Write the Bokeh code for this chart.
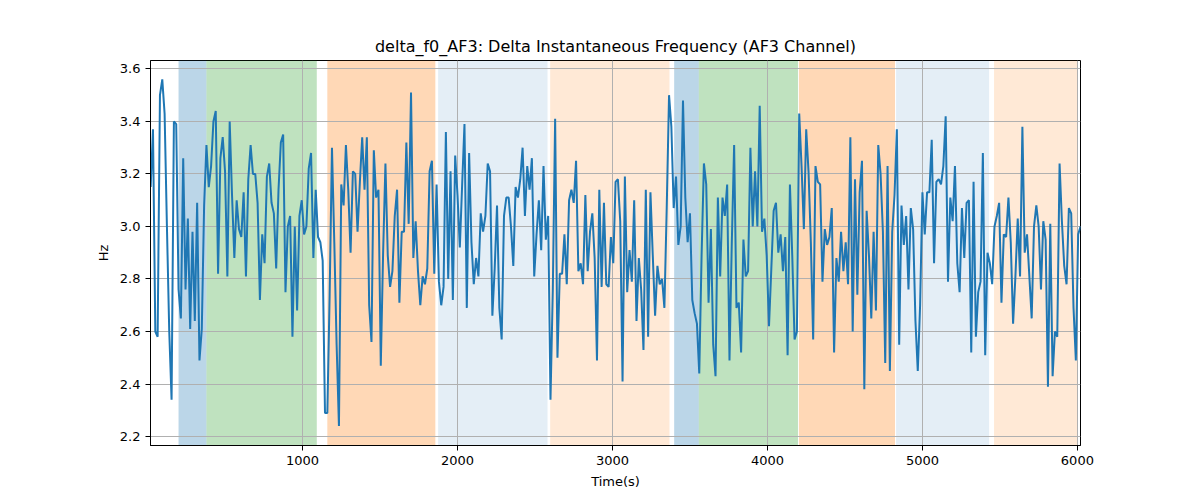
from bokeh.plotting import figure
from bokeh.models import FixedTicker, Range1d, ColumnDataSource, PrintfTickFormatter
from bokeh.embed import file_html
from bokeh.resources import INLINE

# time axis: first sample and sample spacing (seconds)
t_start = 20
t_step = 15

# delta f0 values, left to right
vals_a = [3.15, 3.37, 2.60, 2.58, 3.50, 3.56, 3.43, 3.00, 2.60, 2.34,
          3.40, 3.39, 2.76, 2.65, 3.26, 2.76, 3.03, 2.61, 2.98, 2.64,
          3.09, 2.49, 2.61, 3.08, 3.31, 3.15, 3.23, 3.40, 3.44, 2.82,
          3.26, 3.34, 3.21, 2.81, 3.40, 3.12, 2.88, 3.10, 2.99, 2.96,
          3.13, 2.81, 3.18, 3.31, 3.20, 3.20, 3.09, 2.72, 2.97, 2.86,
          3.19, 3.24, 3.09, 3.05, 2.84, 3.14, 3.32, 3.35, 2.75, 3.00,
          3.04, 2.58, 3.00, 2.68, 3.04, 3.10, 2.97]
vals_b = [3.00, 3.22, 3.28, 2.88, 3.14, 2.96, 2.94, 2.87, 2.29, 2.29,
          2.74, 3.30, 2.94, 2.55, 2.24, 3.16, 3.08, 3.31, 3.14, 2.90,
          3.21, 3.20, 2.98, 3.17, 3.34, 3.14, 3.34, 2.70, 2.56, 3.29,
          3.11, 3.14, 2.47, 2.90, 3.24, 2.89, 2.77, 2.83, 3.04, 3.14,
          2.71, 2.98, 2.98, 3.32, 3.01, 3.51, 2.88, 3.02, 2.83, 2.70,
          2.81, 2.78, 2.84, 3.21, 3.25, 2.82, 3.16, 2.79, 2.70, 2.77,
          3.36, 2.80, 3.21, 2.72, 3.27, 3.12]
vals_c = [2.92, 3.16, 3.39, 2.69, 3.28, 2.94, 2.78, 2.88, 2.81, 3.05,
          2.98, 3.04, 3.24, 3.21, 2.66, 2.84, 3.08, 2.69, 2.57, 3.04,
          3.11, 3.11, 3.00, 2.85, 3.15, 3.11, 3.18, 3.30, 3.04, 3.23,
          3.14, 3.26, 2.81, 2.97, 3.10, 2.91, 3.23, 2.95, 3.04, 2.34,
          2.76, 3.41, 2.50, 2.82, 2.82, 2.97, 2.78, 3.10, 3.14, 3.09,
          3.25, 2.83, 2.86, 2.78, 3.12, 2.83, 2.98, 3.05, 2.88, 2.49,
          3.14, 2.77, 3.09, 2.78, 2.77, 2.96, 2.86]
vals_d = [3.17, 3.18, 3.02, 2.41, 3.19, 2.75, 2.91, 2.79, 3.10, 2.64,
          2.88, 2.76, 2.53, 3.14, 2.58, 3.13, 2.89, 2.66, 2.85, 2.78,
          2.80, 2.69, 3.07, 3.50, 3.38, 3.07, 3.19, 2.93, 3.00, 3.48,
          3.11, 2.94, 3.05, 2.72, 2.67, 2.63, 2.44, 2.89, 3.24, 3.16,
          2.71, 2.99, 2.55, 2.43, 3.11, 2.81, 3.11, 3.04, 3.16, 2.49,
          2.94, 3.31, 2.69, 2.71, 2.52, 2.95, 2.81, 2.83, 3.30, 3.00,
          3.21, 3.00, 3.46, 2.98, 3.03, 2.89, 2.62]
vals_e = [2.84, 3.06, 3.09, 2.90, 2.97, 2.83, 2.96, 2.51, 3.16, 2.89,
          2.57, 2.60, 3.43, 3.23, 2.99, 3.37, 3.21, 2.94, 2.57, 3.23,
          3.17, 3.16, 2.79, 2.99, 2.93, 2.96, 3.07, 2.52, 2.88, 2.79,
          2.98, 2.83, 2.94, 2.78, 3.34, 2.60, 3.18, 2.74, 3.13, 3.25,
          2.38, 3.06, 2.89, 2.65, 2.98, 2.68, 3.31, 3.20, 2.98, 2.48,
          3.23, 2.45, 2.98, 3.12, 3.37, 2.55, 3.08, 2.93, 3.04, 2.76,
          3.07, 2.99, 2.64, 2.45, 2.70, 3.13, 2.97]
vals_f = [3.13, 3.13, 3.33, 2.86, 3.17, 3.18, 3.16, 3.23, 3.42, 2.79,
          3.11, 3.02, 3.23, 2.86, 2.75, 3.07, 2.88, 3.09, 3.10, 2.52,
          3.17, 2.58, 2.75, 2.79, 3.28, 2.51, 2.90, 2.86, 2.78, 3.00,
          3.04, 3.09, 2.71, 2.97, 2.96, 3.11, 2.94, 2.63, 2.81, 3.03,
          2.81, 3.38, 2.90, 2.97, 2.81, 2.65, 3.00, 3.08, 3.00, 2.76,
          3.02, 2.95, 2.39, 3.01, 2.43, 2.60, 2.58, 3.24, 3.02, 2.85,
          2.78, 3.07, 3.05, 2.69, 2.49, 2.97, 3.00]

delta_f0 = vals_a + vals_b + vals_c + vals_d + vals_e + vals_f
times = [t_start + i * t_step for i in range(len(delta_f0))]

# shaded phases: start, end, colour, alpha
span_start = [200, 380, 1160, 1875, 2598, 3398, 3557, 4203, 4830, 5462]
span_end = [380, 1092, 1857, 2581, 3368, 3557, 4197, 4823, 5430, 5998]
span_color = ["#1f77b4", "#2ca02c", "#ff7f0e", "#1f77b4", "#ff7f0e",
              "#1f77b4", "#2ca02c", "#ff7f0e", "#1f77b4", "#ff7f0e"]
span_alpha = [0.3, 0.3, 0.3, 0.12, 0.17, 0.3, 0.3, 0.3, 0.12, 0.17]

FONT = "DejaVu Sans"

p = figure(width=1192, height=492, output_backend="svg", toolbar_location=None,
           title="delta_f0_AF3: Delta Instantaneous Frequency (AF3 Channel)",
           x_range=Range1d(19, 6020), y_range=Range1d(2.166, 3.632),
           x_axis_label="Time(s)", y_axis_label="Hz",
           min_border_left=150, min_border_right=112,
           min_border_top=60, min_border_bottom=47)

p.title.align = "center"
p.title.text_font = FONT
p.title.text_font_size = "16px"
p.title.text_font_style = "normal"
p.title.text_color = "black"

spans = ColumnDataSource(dict(left=span_start, right=span_end, color=span_color, alpha=span_alpha))
p.quad(left="left", right="right", bottom=2.166, top=3.632, fill_color="color",
       fill_alpha="alpha", line_color=None, source=spans, level="image")

p.line(times, delta_f0, line_color="#1f77b4", line_width=2)

p.xaxis.ticker = FixedTicker(ticks=[1000, 2000, 3000, 4000, 5000, 6000])
p.yaxis.ticker = FixedTicker(ticks=[2.2, 2.4, 2.6, 2.8, 3.0, 3.2, 3.4, 3.6])
p.yaxis.formatter = PrintfTickFormatter(format="%.1f")

for ax in [p.xaxis[0], p.yaxis[0]]:
    ax.major_label_text_font = FONT
    ax.major_label_text_font_size = "13px"
    ax.major_label_text_color = "black"
    ax.axis_label_text_font = FONT
    ax.axis_label_text_font_size = "13px"
    ax.axis_label_text_font_style = "normal"
    ax.axis_label_text_color = "black"
    ax.axis_line_color = "black"
    ax.major_tick_line_color = "black"
    ax.major_tick_out = 5
    ax.major_tick_in = 0
    ax.minor_tick_line_color = None
    ax.axis_label_standoff = 6

p.outline_line_color = "black"
p.outline_line_width = 1
p.outline_line_alpha = 1

p.grid.grid_line_color = "#b0b0b0"
p.grid.grid_line_width = 1
p.background_fill_color = "white"

open("out.html", "w").write(file_html(p, INLINE))
